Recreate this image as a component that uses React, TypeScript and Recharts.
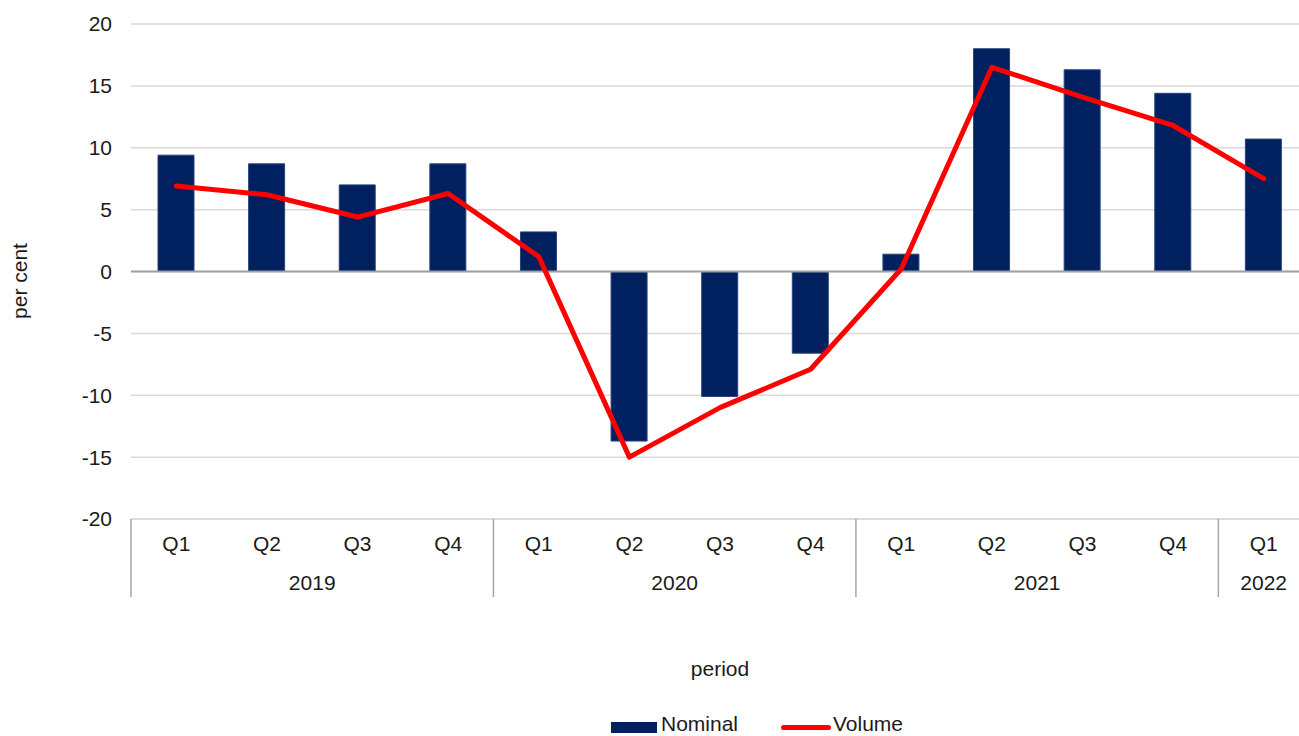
import React from 'react';
import { ComposedChart, Bar, Line, XAxis, YAxis, CartesianGrid, ReferenceLine, Legend } from 'recharts';

const quarters = ['Q1', 'Q2', 'Q3', 'Q4', 'Q1', 'Q2', 'Q3', 'Q4', 'Q1', 'Q2', 'Q3', 'Q4', 'Q1'];
const years = ['2019', '2019', '2019', '2019', '2020', '2020', '2020', '2020', '2021', '2021', '2021', '2021', '2022'];
const nominal = [9.4, 8.7, 7.0, 8.7, 3.2, -13.7, -10.1, -6.6, 1.4, 18.0, 16.3, 14.4, 10.7];
const volume = [6.9, 6.2, 4.4, 6.3, 1.2, -15.0, -11.0, -7.9, 0.2, 16.5, 14.1, 11.8, 7.5];
const yTicks = [-20, -15, -10, -5, 0, 5, 10, 15, 20];

const data = quarters.map((q, i) => ({
  key: `${years[i]}-${q}`,
  q,
  year: years[i],
  Nominal: nominal[i],
  Volume: volume[i],
}));

const CHART_W = 1309;
const CHART_H = 736;
const LEFT = 131;
const PLOT_W = CHART_W - LEFT;
const BAND = PLOT_W / quarters.length;
const FONT = '"Liberation Sans", Arial, sans-serif';
const TEXT = '#1a1a1a';
const SEP = '#a6a6a6';

const yearSpan = (yr: string) => years.filter((y) => y === yr).length;

const XTick = (props: any) => {
  const { x, y, payload } = props;
  const i = payload.index;
  const isFirst = i === 0 || years[i] !== years[i - 1];
  const isLast = i === years.length - 1;
  const left = x - BAND / 2;
  return (
    <g>
      <text x={x} y={y + 32} textAnchor="middle" fontSize={21} fontFamily={FONT} fill={TEXT}>
        {quarters[i]}
      </text>
      {isFirst && (
        <>
          <line x1={left} y1={y} x2={left} y2={y + 78} stroke={SEP} strokeWidth={1.5} />
          <text
            x={left + (yearSpan(years[i]) * BAND) / 2}
            y={y + 71}
            textAnchor="middle"
            fontSize={21}
            fontFamily={FONT}
            fill={TEXT}
          >
            {years[i]}
          </text>
        </>
      )}
      {isLast && <line x1={x + BAND / 2} y1={y} x2={x + BAND / 2} y2={y + 78} stroke={SEP} strokeWidth={1.5} />}
    </g>
  );
};

const YLabel = () => (
  <text
    x={27}
    y={281}
    transform="rotate(-90 27 281)"
    textAnchor="middle"
    fontSize={21}
    fontFamily={FONT}
    fill={TEXT}
  >
    per cent
  </text>
);

const LegendContent = () => (
  <div
    style={{
      position: 'relative',
      height: 24,
      width: CHART_W,
      fontFamily: FONT,
      fontSize: 21,
      color: TEXT,
    }}
  >
    <div style={{ position: 'absolute', left: 611, top: 10, width: 46, height: 11, background: '#002060' }} />
    <div style={{ position: 'absolute', left: 661, top: 0, lineHeight: '24px', whiteSpace: 'nowrap' }}>Nominal</div>
    <div style={{ position: 'absolute', left: 781, top: 13, width: 50, height: 5, borderRadius: 3, background: '#ff0000' }} />
    <div style={{ position: 'absolute', left: 833, top: 0, lineHeight: '24px', whiteSpace: 'nowrap' }}>Volume</div>
  </div>
);

export default function App() {
  return (
    <div style={{ position: 'absolute', left: 0, top: 0, width: 1299, height: 736, overflow: 'hidden', background: '#fff' }}>
      <ComposedChart
        width={CHART_W}
        height={CHART_H}
        data={data}
        margin={{ top: 24, right: 0, left: 0, bottom: 0 }}
        barSize={36}
      >
        <CartesianGrid vertical={false} stroke="#d9d9d9" strokeWidth={1.5} />
        <XAxis
          dataKey="key"
          height={193}
          tickSize={0}
          tickMargin={0}
          tickLine={false}
          axisLine={{ stroke: '#d9d9d9', strokeWidth: 1.5 }}
          interval={0}
          tick={<XTick />}
          label={{
            value: 'period',
            position: 'insideBottom',
            offset: 36,
            fontSize: 21,
            fontFamily: FONT,
            fill: TEXT,
          }}
        />
        <YAxis
          width={LEFT}
          domain={[-20, 20]}
          ticks={yTicks}
          axisLine={false}
          tickLine={false}
          tickSize={0}
          tickMargin={19}
          tick={{ fontSize: 21, fontFamily: FONT, fill: TEXT }}
          label={<YLabel />}
        />
        <ReferenceLine y={0} stroke="#a0a0a0" strokeWidth={2} />
        <Bar dataKey="Nominal" fill="#002060" stroke="#2a4378" strokeWidth={1} isAnimationActive={false} />
        <Line
          dataKey="Volume"
          type="linear"
          stroke="#ff0000"
          strokeWidth={5}
          dot={false}
          activeDot={false}
          strokeLinejoin="round"
          strokeLinecap="round"
          isAnimationActive={false}
        />
        <Legend
          verticalAlign="bottom"
          align="left"
          wrapperStyle={{ left: 0, width: CHART_W }}
          content={<LegendContent />}
        />
      </ComposedChart>
    </div>
  );
}
